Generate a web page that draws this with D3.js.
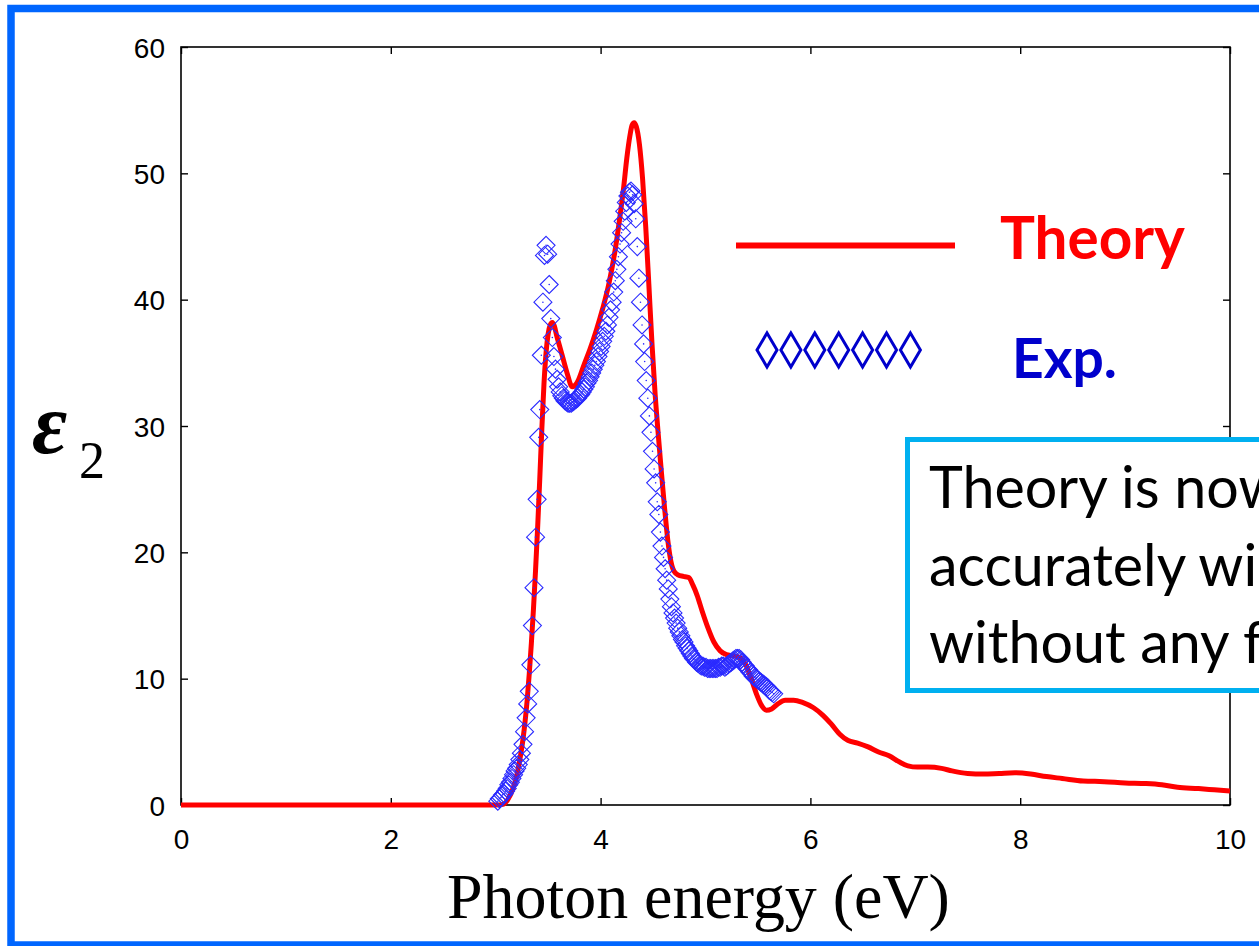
<!DOCTYPE html>
<html>
<head>
<meta charset="utf-8">
<script src="https://cdn.jsdelivr.net/npm/d3@7"></script>
<style>
  html, body { margin: 0; padding: 0; background: #ffffff; }
  svg { display: block; }
</style>
</head>
<body>
<svg id="chart" width="1259" height="946"></svg>
<script>
// ---------------- DATA ----------------
const xTicks = [0, 2, 4, 6, 8, 10];
const yTicks = [0, 10, 20, 30, 40, 50, 60];
const seriesNames = ["Theory", "Exp."];

// Theory: photon energy (eV) and epsilon_2
const theoryE = [0, 1, 2, 2.9, 3.0, 3.07, 3.12, 3.16, 3.20, 3.23, 3.26, 3.28, 3.30, 3.32, 3.34, 3.36, 3.38, 3.40, 3.42, 3.44, 3.46, 3.48, 3.50, 3.52, 3.54, 3.56, 3.58, 3.61, 3.64, 3.68, 3.73, 3.78, 3.84, 3.90, 3.96, 4.02, 4.08, 4.14, 4.18, 4.22, 4.25, 4.28, 4.30, 4.32, 4.34, 4.37, 4.40, 4.43, 4.46, 4.49, 4.52, 4.55, 4.58, 4.61, 4.64, 4.67, 4.70, 4.74, 4.79, 4.84, 4.88, 4.92, 4.97, 5.02, 5.08, 5.14, 5.20, 5.27, 5.34, 5.39, 5.44, 5.49, 5.54, 5.58, 5.63, 5.69, 5.76, 5.84, 5.93, 6.03, 6.12, 6.20, 6.28, 6.36, 6.45, 6.55, 6.65, 6.75, 6.85, 6.93, 7.02, 7.12, 7.25, 7.35, 7.50, 7.65, 7.80, 7.95, 8.10, 8.25, 8.40, 8.60, 8.80, 9.00, 9.20, 9.35, 9.50, 9.70, 9.85, 10.0];
const theoryEps = [0, 0, 0, 0, 0, 0.05, 0.5, 1.2, 2.3, 3.6, 5.2, 6.6, 8.3, 10.4, 12.8, 15.5, 18.6, 22.0, 25.8, 29.8, 33.3, 35.8, 37.3, 38.0, 38.2, 37.9, 37.2, 36.3, 35.4, 34.2, 33.1, 33.5, 34.8, 36.1, 37.6, 39.3, 41.3, 44.0, 46.3, 48.9, 51.2, 53.0, 53.8, 54.0, 53.7, 52.3, 49.6, 45.8, 41.2, 36.5, 32.5, 29.3, 26.3, 23.5, 21.0, 19.3, 18.5, 18.2, 18.1, 18.0, 17.4, 16.6, 15.3, 14.1, 12.9, 12.2, 11.9, 11.8, 11.6, 11.0, 9.9, 8.7, 7.8, 7.5, 7.6, 8.0, 8.3, 8.3, 8.1, 7.7, 7.1, 6.4, 5.6, 5.1, 4.9, 4.6, 4.2, 3.9, 3.4, 3.1, 3.0, 3.0, 2.9, 2.7, 2.5, 2.45, 2.5, 2.55, 2.45, 2.25, 2.1, 1.9, 1.85, 1.75, 1.7, 1.6, 1.4, 1.3, 1.2, 1.1];

// Experiment: photon energy (eV) and epsilon_2
const expE = [3.020, 3.035, 3.050, 3.065, 3.080, 3.095, 3.110, 3.125, 3.140, 3.155, 3.170, 3.185, 3.200, 3.215, 3.230, 3.245, 3.260, 3.275, 3.290, 3.305, 3.320, 3.335, 3.350, 3.365, 3.380, 3.395, 3.410, 3.420, 3.435, 3.450, 3.465, 3.480, 3.495, 3.510, 3.525, 3.540, 3.555, 3.570, 3.585, 3.600, 3.615, 3.630, 3.645, 3.660, 3.675, 3.690, 3.705, 3.720, 3.735, 3.750, 3.765, 3.780, 3.795, 3.810, 3.825, 3.840, 3.855, 3.870, 3.885, 3.900, 3.915, 3.930, 3.945, 3.960, 3.975, 3.990, 4.005, 4.020, 4.035, 4.050, 4.065, 4.080, 4.095, 4.110, 4.125, 4.140, 4.155, 4.170, 4.185, 4.200, 4.215, 4.230, 4.245, 4.260, 4.275, 4.290, 4.305, 4.320, 4.335, 4.350, 4.365, 4.380, 4.395, 4.410, 4.420, 4.435, 4.450, 4.465, 4.480, 4.495, 4.510, 4.525, 4.540, 4.555, 4.570, 4.585, 4.600, 4.615, 4.630, 4.645, 4.660, 4.675, 4.690, 4.705, 4.720, 4.735, 4.750, 4.765, 4.780, 4.795, 4.810, 4.825, 4.840, 4.855, 4.870, 4.885, 4.900, 4.915, 4.930, 4.945, 4.960, 4.975, 4.990, 5.005, 5.020, 5.035, 5.050, 5.065, 5.080, 5.095, 5.110, 5.125, 5.140, 5.155, 5.170, 5.185, 5.200, 5.215, 5.230, 5.245, 5.260, 5.275, 5.290, 5.305, 5.320, 5.335, 5.350, 5.365, 5.380, 5.395, 5.410, 5.425, 5.440, 5.455, 5.470, 5.485, 5.500, 5.515, 5.530, 5.545, 5.560, 5.575, 5.590, 5.605, 5.620, 5.635, 5.650];
const expEps = [0.3, 0.5, 0.6, 0.8, 0.9, 1.1, 1.3, 1.6, 1.8, 2.1, 2.4, 2.7, 2.9, 3.2, 3.6, 4.1, 4.8, 5.8, 6.9, 8.0, 9.0, 11.1, 14.2, 17.2, 21.2, 24.2, 29.1, 31.3, 35.6, 39.8, 43.5, 44.3, 43.6, 41.2, 38.5, 37.0, 35.5, 34.5, 33.7, 33.1, 32.7, 32.4, 32.2, 32.0, 31.9, 31.8, 31.8, 31.8, 31.9, 32.0, 32.1, 32.2, 32.4, 32.5, 32.7, 32.9, 33.1, 33.4, 33.6, 33.9, 34.2, 34.5, 34.8, 35.1, 35.5, 35.9, 36.3, 36.7, 37.1, 37.5, 38.0, 38.6, 39.2, 39.8, 40.6, 41.5, 42.4, 43.4, 44.4, 45.3, 46.2, 47.0, 47.7, 48.2, 48.5, 48.6, 48.3, 47.6, 46.4, 44.2, 41.7, 39.8, 38.0, 36.5, 35.1, 33.6, 32.2, 30.8, 29.5, 28.0, 26.6, 25.5, 24.0, 23.0, 21.6, 20.5, 19.6, 18.7, 17.8, 17.1, 16.3, 15.7, 15.2, 14.8, 14.4, 14.0, 13.7, 13.4, 13.1, 12.9, 12.6, 12.4, 12.2, 12.0, 11.8, 11.6, 11.5, 11.3, 11.2, 11.1, 11.0, 11.0, 10.9, 10.9, 10.8, 10.8, 10.8, 10.8, 10.8, 10.8, 10.8, 10.9, 10.9, 11.0, 11.0, 10.9, 11.0, 11.1, 11.2, 11.3, 11.4, 11.5, 11.6, 11.6, 11.6, 11.5, 11.3, 11.1, 11.0, 10.8, 10.7, 10.5, 10.4, 10.2, 10.1, 10.0, 9.9, 9.8, 9.7, 9.6, 9.5, 9.4, 9.3, 9.1, 9.0, 8.9, 8.8];

const xTitle = "Photon energy (eV)";
const noteLines = ["Theory is now", "accurately wi", "without any f"];

// ---------------- CHART ----------------
const svg = d3.select("#chart");
const W = 1259, H = 946;
const plot = { left: 181, right: 1230, top: 47, bottom: 805 };

svg.append("rect").attr("x", 0).attr("y", 0).attr("width", W).attr("height", H).attr("fill", "#ffffff");

// slide frame
svg.append("rect")
  .attr("x", 11).attr("y", 8.5).attr("width", 1320).attr("height", 936.5)
  .attr("fill", "none").attr("stroke", "#0066ff").attr("stroke-width", 7.5);

const x = d3.scaleLinear().domain([0, 10]).range([plot.left, plot.right]);
const y = d3.scaleLinear().domain([0, 60]).range([plot.bottom, plot.top]);

const tickFont = "'Liberation Sans', Arial, sans-serif";
const tickLen = 7;

// axis box
svg.append("rect")
  .attr("x", plot.left).attr("y", plot.top)
  .attr("width", plot.right - plot.left).attr("height", plot.bottom - plot.top)
  .attr("fill", "none").attr("stroke", "#000").attr("stroke-width", 1.6);

// axes via d3 axis generators (inward ticks)
const gxB = svg.append("g").attr("transform", `translate(0,${plot.bottom})`)
  .call(d3.axisBottom(x).tickValues(xTicks).tickSizeInner(-tickLen).tickSizeOuter(0).tickPadding(tickLen + 17).tickFormat(d3.format("d")));
const gxT = svg.append("g").attr("transform", `translate(0,${plot.top})`)
  .call(d3.axisTop(x).tickValues(xTicks).tickSizeInner(-tickLen).tickSizeOuter(0).tickFormat(""));
const gyL = svg.append("g").attr("transform", `translate(${plot.left},0)`)
  .call(d3.axisLeft(y).tickValues(yTicks).tickSizeInner(-tickLen).tickSizeOuter(0).tickPadding(tickLen + 9).tickFormat(d3.format("d")));
const gyR = svg.append("g").attr("transform", `translate(${plot.right},0)`)
  .call(d3.axisRight(y).tickValues(yTicks).tickSizeInner(-tickLen).tickSizeOuter(0).tickFormat(""));

[gxB, gxT, gyL, gyR].forEach(g => {
  g.attr("font-size", null).attr("font-family", null);
  g.select(".domain").remove();
  g.selectAll(".tick line").attr("stroke", "#000").attr("stroke-width", 1.4);
  g.selectAll(".tick text").attr("font-family", tickFont).attr("font-size", 28).attr("fill", "#000");
});
gyL.selectAll(".tick text").attr("dy", "0.36em");

// theory curve
const theoryData = theoryE.map((e, i) => ({ e, v: theoryEps[i] }));
const line = d3.line().x(d => x(d.e)).y(d => y(d.v)).curve(d3.curveMonotoneX);
svg.append("path").datum(theoryData)
  .attr("d", line).attr("fill", "none")
  .attr("stroke", "#ff0000").attr("stroke-width", 5).attr("stroke-linejoin", "round");

// experimental diamonds
const expData = expE.map((e, i) => ({ e, v: expEps[i] }));
const dm = 9;
const diamond = `M0,${-dm}L${dm},0L0,${dm}L${-dm},0Z`;
const gExp = svg.append("g");
gExp.selectAll("path").data(expData).join("path")
  .attr("transform", d => `translate(${x(d.e)},${y(d.v)})`)
  .attr("d", diamond).attr("fill", "none")
  .attr("stroke", "#2a2aff").attr("stroke-width", 1.1);
gExp.selectAll("circle").data(expData).join("circle")
  .attr("cx", d => x(d.e)).attr("cy", d => y(d.v)).attr("r", 0.8).attr("fill", "#2a2aff");

// helper: fit text to width
function fitText(sel, target) {
  const w = sel.node().getComputedTextLength();
  const fs = parseFloat(sel.attr("font-size"));
  sel.attr("font-size", fs * target / w);
}

// legend
svg.append("line").attr("x1", 736).attr("x2", 955).attr("y1", 245.5).attr("y2", 245.5)
  .attr("stroke", "#ff0000").attr("stroke-width", 6);
const legFont = "Lato, 'Open Sans', sans-serif";
const tTheory = svg.append("text").attr("x", 1000).attr("y", 259).text(seriesNames[0])
  .attr("font-family", legFont).attr("font-weight", 700).attr("font-size", 50).attr("fill", "#ff0000");
fitText(tTheory, 185);
const ld = { w: 10, h: 17 };
const legDiamond = `M0,${-ld.h}L${ld.w},0L0,${ld.h}L${-ld.w},0Z`;
svg.append("g").selectAll("path").data(d3.range(7)).join("path")
  .attr("transform", i => `translate(${767 + i * 23.9},350)`)
  .attr("d", legDiamond).attr("fill", "none").attr("stroke", "#0000cc").attr("stroke-width", 3);
const tExp = svg.append("text").attr("x", 1012).attr("y", 378).text(seriesNames[1])
  .attr("font-family", legFont).attr("font-weight", 700).attr("font-size", 50).attr("fill", "#0000cc");
fitText(tExp, 105);

// axis titles
const xt = svg.append("text").attr("x", 447).attr("y", 918).text(xTitle)
  .attr("font-family", "'Liberation Serif', 'Times New Roman', serif").attr("font-size", 52).attr("fill", "#000");
fitText(xt, 503);

const yl = svg.append("text").attr("x", 32).attr("y", 453)
  .attr("font-family", "'Liberation Serif', 'Times New Roman', serif").attr("fill", "#000");
yl.append("tspan").attr("font-style", "italic").attr("font-weight", 700).attr("font-size", 86).text("ε");
yl.append("tspan").attr("font-size", 52).attr("x", 79).attr("y", 478).text("2");

// note box
svg.append("rect").attr("x", 907.5).attr("y", 439.5).attr("width", 500).attr("height", 251)
  .attr("fill", "#ffffff").attr("stroke", "#00b0f0").attr("stroke-width", 5);
const noteFont = "Lato, 'Open Sans', sans-serif";
const probe = svg.append("text").attr("font-family", noteFont).attr("font-size", 60).text("Theory is no");
fitText(probe, 310);
const noteSize = parseFloat(probe.attr("font-size"));
probe.remove();
svg.append("g").selectAll("text").data(noteLines).join("text")
  .attr("x", 929).attr("y", (d, i) => 508 + i * 77.5)
  .attr("font-family", noteFont).attr("font-size", noteSize).attr("fill", "#000")
  .text(d => d);
</script>
</body>
</html>
